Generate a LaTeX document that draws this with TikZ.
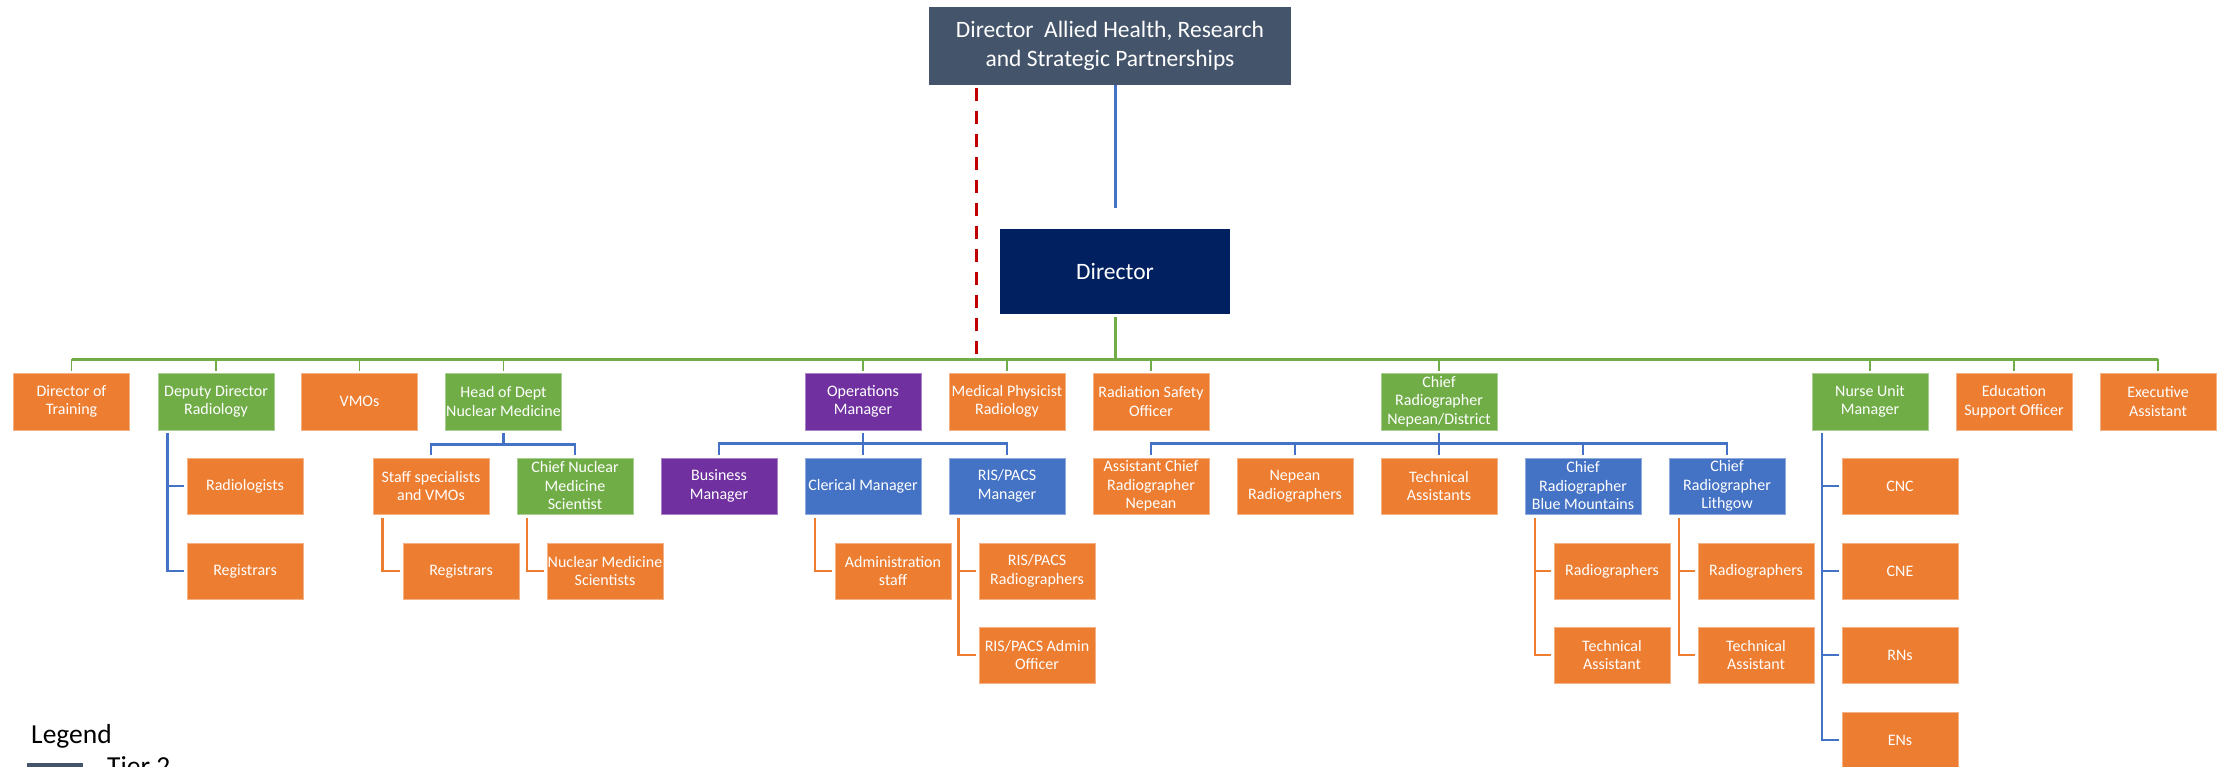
\documentclass[tikz,border=0pt]{standalone}
\usepackage{fontspec}
\setmainfont{Carlito}
\definecolor{corange}{HTML}{ED7D31}
\definecolor{cgreen}{HTML}{70AD47}
\definecolor{cpurple}{HTML}{7030A0}
\definecolor{cblue}{HTML}{4472C4}
\definecolor{cslate}{HTML}{44546A}
\definecolor{cnavy}{HTML}{002060}
\definecolor{cred}{HTML}{C00000}
\tikzset{
  box/.style={rectangle, minimum width=116pt, minimum height=56pt, inner sep=0pt, text=white, align=center, font=\fontsize{16}{18.5}\selectfont, line width=0.8pt},
  tt/.style={minimum height=57pt},
  ob/.style={box, fill=corange, draw=corange!60!white},
  gb/.style={box, fill=cgreen, draw=cgreen!60!white},
  pb/.style={box, fill=cpurple, draw=cpurple!60!white},
  bb/.style={box, fill=cblue, draw=cblue!60!white},
  bline/.style={draw=cblue, line width=2.5pt},
  oline/.style={draw=corange, line width=2.5pt},
  gbus/.style={draw=cgreen, line width=3pt},
  gtick/.style={draw=cgreen, line width=1.5pt},
  reddash/.style={draw=cred, line width=3pt, dash pattern=on 13pt off 10pt},
  bigtext/.style={font=\fontsize{23.5}{29}\selectfont, text=white, align=center, inner sep=0pt},
}
\begin{document}
\begin{tikzpicture}[x=1pt,y=-1pt]
\useasboundingbox (0,0) rectangle (2224,767);
\fill[white] (0,0) rectangle (2224,767);
\begin{scope}
\clip (0,0) rectangle (2224,767);

% top levels
\node[bigtext, fill=cslate, minimum width=362pt, minimum height=78pt] (top) at (1110,46) {Director\ \ Allied Health, Research\\and Strategic Partnerships};
\node[bigtext, fill=cnavy, minimum width=230pt, minimum height=85pt] (dir) at (1115,271.5) {Director};

% tier 2
\node[ob,tt] (dot) at (71.5,401.5) {Director of\\Training};
\node[gb,tt] (dep) at (216,401.5) {Deputy Director\\Radiology};
\node[ob,tt] (vmo) at (359.5,401.5) {VMOs};
\node[gb,tt] (hod) at (503.5,401.5) {Head of Dept\\Nuclear Medicine};
\node[pb,tt] (ops) at (863,401.5) {Operations\\Manager};
\node[ob,tt] (mph) at (1007,401.5) {Medical Physicist\\Radiology};
\node[ob,tt] (rso) at (1151,401.5) {Radiation Safety\\Officer};
\node[gb,tt] (crn) at (1439,401.5) {Chief\\Radiographer\\Nepean/District};
\node[gb,tt] (num) at (1870,401.5) {Nurse Unit\\Manager};
\node[ob,tt] (eso) at (2014,401.5) {Education\\Support Officer};
\node[ob,tt] (exa) at (2158,401.5) {Executive\\Assistant};

% tier 3
\node[ob] (radl) at (245,486) {Radiologists};
\node[ob] (staff) at (431,486) {Staff specialists\\and VMOs};
\node[gb] (cnms) at (575,486) {Chief Nuclear\\Medicine\\Scientist};
\node[pb] (bm) at (719,486) {Business\\Manager};
\node[bb] (clm) at (863,486) {Clerical Manager};
\node[bb] (rpm) at (1007,486) {RIS/PACS\\Manager};
\node[ob] (acr) at (1151,486) {Assistant Chief\\Radiographer\\Nepean};
\node[ob] (nrad) at (1295,486) {Nepean\\Radiographers};
\node[ob] (tas) at (1439,486) {Technical\\Assistants};
\node[bb] (crbm) at (1583,486) {Chief\\Radiographer\\Blue Mountains};
\node[bb] (crl) at (1727,486) {Chief\\Radiographer\\Lithgow};
\node[ob] (cnc) at (1900,486) {CNC};

% tier 4
\node[ob] (reg1) at (245,571) {Registrars};
\node[ob] (reg2) at (461,571) {Registrars};
\node[ob] (nms) at (605,571) {Nuclear Medicine\\Scientists};
\node[ob] (adm) at (893,571) {Administration\\staff};
\node[ob] (rprad) at (1037,571) {RIS/PACS\\Radiographers};
\node[ob] (rad1) at (1612,571) {Radiographers};
\node[ob] (rad2) at (1756,571) {Radiographers};
\node[ob] (cne) at (1900,571) {CNE};

% tier 5
\node[ob] (rpao) at (1037,655) {RIS/PACS Admin\\Officer};
\node[ob] (ta1) at (1612,655) {Technical\\Assistant};
\node[ob] (ta2) at (1756,655) {Technical\\Assistant};
\node[ob] (rns) at (1900,655) {RNs};

% tier 6
\node[ob] (ens) at (1900,740) {ENs};

% connectors top
\draw[draw=cblue, line width=3pt] (top.south -| dir.north) -- ([yshift=21pt]dir.north);
\coordinate (rtop) at (976,88);
\coordinate (busL) at (71.5,359);
\coordinate (busR) at (2158,359);
\draw[reddash] (rtop) -- (rtop |- busL);
\draw[gbus] ([yshift=-3pt]dir.south) -- (dir.south |- busL);
\draw[gbus] (busL) -- (busR);
\foreach \n in {dot,dep,vmo,hod,ops,mph,rso,crn,num,eso,exa}
  \draw[gtick] ([yshift=2pt]\n.north) -- (\n.north |- busL);

% brackets
\draw[bline] ([yshift=-3pt]hod.south) -- ([yshift=-14pt]hod.south);
\draw[bline] ([yshift=3pt]staff.north) |- ([yshift=-14pt]hod.south) -| ([yshift=3pt]cnms.north);

\draw[bline] ([yshift=-3pt]ops.south) -- ([yshift=3pt]clm.north);
\draw[bline] ([yshift=3pt]bm.north) |- ([yshift=-13pt]ops.south) -| ([yshift=3pt]rpm.north);

\draw[bline] ([yshift=-3pt]crn.south) -- ([yshift=3pt]tas.north);
\draw[bline] ([yshift=3pt]acr.north) |- ([yshift=-13pt]crn.south) -| ([yshift=3pt]crl.north);
\draw[bline] ([yshift=3pt]nrad.north) -- ([yshift=-13pt]crn.south -| nrad.north);
\draw[bline] ([yshift=3pt]crbm.north) -- ([yshift=-13pt]crn.south -| crbm.north);

% side lines
\coordinate (dl) at ([xshift=10pt,yshift=-3pt]dep.south west);
\draw[bline] (dl) |- ([xshift=-3pt]reg1.west);
\draw[bline] (dl |- radl.west) -- ([xshift=-3pt]radl.west);

\coordinate (sl) at ([xshift=10pt,yshift=-4pt]staff.south west);
\draw[oline] (sl) |- ([xshift=-3pt]reg2.west);

\coordinate (cl) at ([xshift=10.5pt,yshift=-4pt]cnms.south west);
\draw[oline] (cl) |- ([xshift=-3pt]nms.west);

\coordinate (ml) at ([xshift=10.5pt,yshift=-4pt]clm.south west);
\draw[oline] (ml) |- ([xshift=-3pt]adm.west);

\coordinate (pl) at ([xshift=10pt,yshift=-4pt]rpm.south west);
\draw[oline] (pl) |- ([xshift=-3pt]rpao.west);
\draw[oline] (pl |- rprad.west) -- ([xshift=-3pt]rprad.west);

\coordinate (bl) at ([xshift=10.5pt,yshift=-4pt]crbm.south west);
\draw[oline] (bl) |- ([xshift=-3pt]ta1.west);
\draw[oline] (bl |- rad1.west) -- ([xshift=-3pt]rad1.west);

\coordinate (ll) at ([xshift=10.5pt,yshift=-4pt]crl.south west);
\draw[oline] (ll) |- ([xshift=-3pt]ta2.west);
\draw[oline] (ll |- rad2.west) -- ([xshift=-3pt]rad2.west);

\coordinate (nl) at ([xshift=10.5pt,yshift=-3pt]num.south west);
\draw[bline] (nl) |- ([xshift=-3pt]ens.west);
\foreach \n in {cnc,cne,rns}
  \draw[bline] (nl |- \n.west) -- ([xshift=-3pt]\n.west);

% legend
\node[anchor=base west, inner sep=0pt, font=\fontsize{27.5}{33}\selectfont] (leg) at (31,743) {Legend};
\fill[cslate] (27,763) rectangle (83,790);
\node[anchor=base west, inner sep=0pt, font=\fontsize{27.5}{33}\selectfont] (t2) at (107,775) {Tier 2};
\end{scope}
\end{tikzpicture}
\end{document}
